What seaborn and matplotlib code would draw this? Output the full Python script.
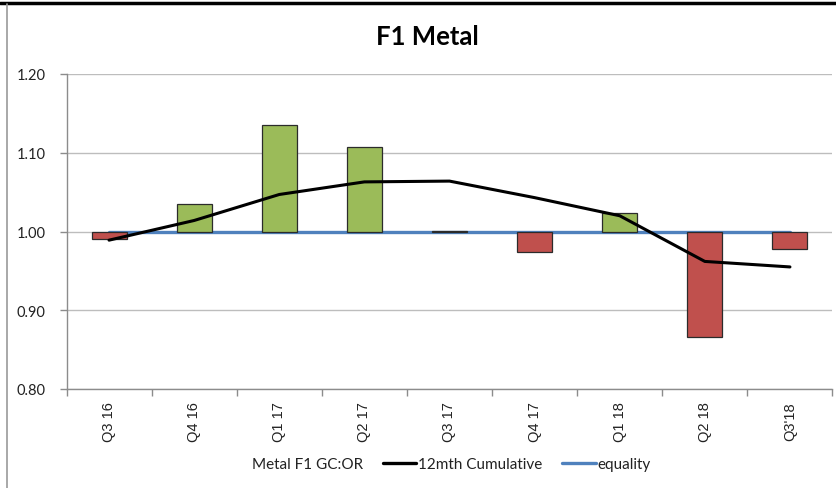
import numpy as np
import pandas as pd
import seaborn as sns
import matplotlib.pyplot as plt
from matplotlib.lines import Line2D
from matplotlib.ticker import FixedLocator

# Quarterly grade-control vs ore-reserve ratio for F1 metal
quarters = ["Q3 16", "Q4 16", "Q1 17", "Q2 17", "Q3 17", "Q4 17", "Q1 18", "Q2 18", "Q3'18"]
gc_or = [0.990, 1.035, 1.135, 1.107, 1.001, 0.974, 1.024, 0.866, 0.978]
cumulative = [0.989, 1.014, 1.047, 1.063, 1.064, 1.043, 1.020, 0.962, 0.955]
equality = [1.0] * len(quarters)
y_ticks = [0.80, 0.90, 1.00, 1.10, 1.20]

GREEN = "#9BBB59"
RED = "#C0504D"
BLUE = "#4F81BD"

sns.set_theme(style="white")
plt.rcParams["font.family"] = ["Lato", "DejaVu Sans"]

df = pd.DataFrame({
    "quarter": quarters,
    "delta": np.array(gc_or) - 1.0,
})
df["dir"] = np.where(df["delta"] >= 0, "up", "down")

fig = plt.figure(figsize=(8.37, 4.89), dpi=100)
ax = fig.add_axes([66.5 / 837, 1 - 390 / 489, (832.5 - 66.5) / 837, (390 - 75) / 489])

# up/down bars drawn from the equality baseline
sns.barplot(data=df, x="quarter", y="delta", hue="dir", order=quarters,
            palette={"up": GREEN, "down": RED}, dodge=False, width=0.41,
            saturation=1, bottom=1.0, edgecolor="#2b2b2b", linewidth=0.9,
            legend=False, ax=ax, zorder=3)

xpos = np.arange(len(quarters))
sns.lineplot(x=xpos, y=equality, color=BLUE, linewidth=2.4, ax=ax, zorder=2,
             sort=False)
sns.lineplot(x=xpos, y=cumulative, color="black", linewidth=2.2, ax=ax, zorder=4,
             sort=False)

ax.set_xlim(-0.5, len(quarters) - 0.5)
ax.set_ylim(0.80, 1.20)
ax.set_yticks(y_ticks)
ax.set_yticklabels([f"{v:.2f}" for v in y_ticks], fontsize=10.5, color="#222222")
ax.set_xticks(xpos)
ax.set_xticklabels(quarters, rotation=90, fontsize=10.5, color="#222222",
                   family="Liberation Sans")
ax.xaxis.set_minor_locator(FixedLocator(np.arange(-0.5, len(quarters), 1.0)))
ax.tick_params(axis="x", which="major", length=0, pad=9)
ax.tick_params(axis="x", which="minor", length=5, color="#8c8c8c", width=1,
               direction="out", bottom=True)
ax.tick_params(axis="y", length=5, color="#8c8c8c", width=1, direction="out",
               left=True, pad=10)
ax.set_xlabel("")
ax.set_ylabel("")

ax.yaxis.grid(True, color="#bdbdbd", linewidth=1.0, zorder=0)
ax.xaxis.grid(False)
ax.set_axisbelow(True)
ax.spines["top"].set_visible(False)
ax.spines["right"].set_visible(False)
for side in ["left", "bottom"]:
    ax.spines[side].set_color("#8c8c8c")
    ax.spines[side].set_linewidth(1.0)

fig.text(0.511, 1 - 37 / 489, "F1 Metal", ha="center", va="center",
         fontsize=18.5, fontweight="bold", color="black")

handles = [
    Line2D([], [], color="none", linewidth=2.4),
    Line2D([], [], color="black", linewidth=2.4),
    Line2D([], [], color=BLUE, linewidth=2.4),
]
labels = ["Metal F1 GC:OR", "12mth Cumulative", "equality"]
fig.legend(handles, labels, loc="center", bbox_to_anchor=(0.518, 1 - 465 / 489),
           ncol=3, frameon=False, fontsize=11, handlelength=2.2,
           handletextpad=0.1, columnspacing=1.3, labelcolor="#222222")

# chart frame edges
fig.add_artist(Line2D([0, 0.999], [1 - 3.5 / 489, 1 - 3.5 / 489], color="black",
                      linewidth=2.5, transform=fig.transFigure))
fig.add_artist(Line2D([7.5 / 837, 7.5 / 837], [0, 1 - 5 / 489], color="#9a9a9a",
                      linewidth=1.2, transform=fig.transFigure))

fig.savefig("out.png", dpi=100)
